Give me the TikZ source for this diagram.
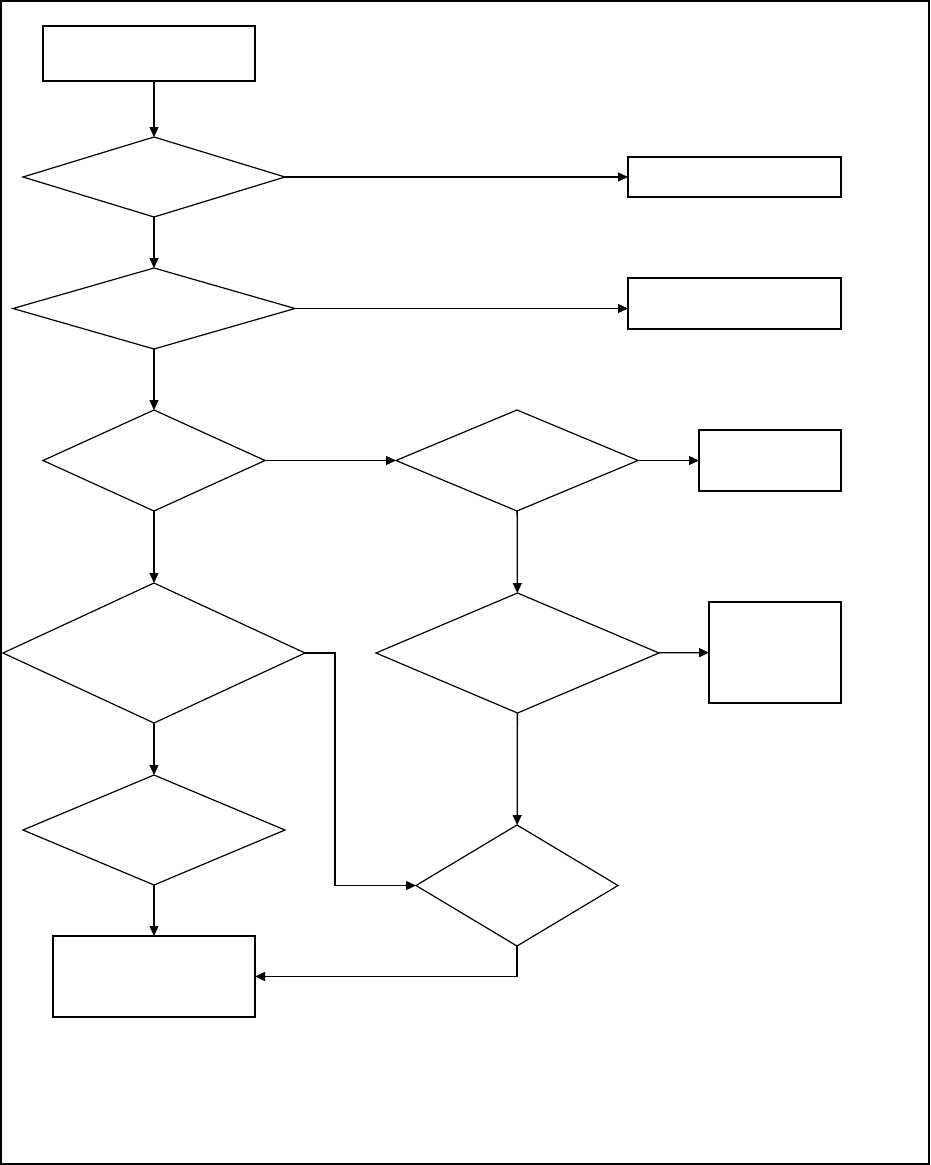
\documentclass[tikz,border=0pt]{standalone}
\usetikzlibrary{shapes.geometric,arrows.meta}
\begin{document}
\begin{tikzpicture}[x=1pt,y=-1pt,
  line width=1.2pt,
  box/.style={draw,rectangle,inner sep=0pt,outer sep=0pt},
  dia/.style={draw,diamond,inner sep=0pt,outer sep=0pt},
  conn/.style={-{Triangle[length=10pt,width=9pt]},line width=1.3pt}]
\useasboundingbox (0,0) rectangle (930,1165);
\draw[line width=1.5pt] (1,1) rectangle (929,1164);
% boxes
\node[box,line width=2pt,minimum width=212pt,minimum height=55pt] (start) at (149,53.5) {};
\node[box,minimum width=213pt,minimum height=40pt] (r1) at (734.5,177) {};
\node[box,minimum width=213pt,minimum height=51pt] (r2) at (734.5,303.5) {};
\node[box,minimum width=142pt,minimum height=61pt] (r3) at (770,460.5) {};
\node[box,minimum width=132pt,minimum height=101pt] (r4) at (775,652.5) {};
\node[box,minimum width=202pt,minimum height=81pt] (end) at (154,976.5) {};
% diamonds
\node[dia,minimum width=262pt,minimum height=80pt] (d1) at (154,177) {};
\node[dia,minimum width=282pt,minimum height=81pt] (d2) at (154,308.5) {};
\node[dia,minimum width=222pt,minimum height=101pt] (d3) at (154,460.5) {};
\node[dia,minimum width=242pt,minimum height=101pt] (d4) at (517,460.5) {};
\node[dia,minimum width=302pt,minimum height=140pt] (d5) at (154,653) {};
\node[dia,minimum width=283pt,minimum height=120pt] (d6) at (517.5,653) {};
\node[dia,minimum width=262pt,minimum height=110pt] (d7) at (154,830) {};
\node[dia,minimum width=202pt,minimum height=121pt] (d8) at (517,885.5) {};
\coordinate (k1) at (335,653);
% connectors
\draw[conn] (start.south -| d1.north) -- (d1.north);
\draw[conn] (d1.east) -- (r1.west |- d1.east);
\draw[conn] (d1) -- (d2);
\draw[conn] (d2.east) -- (r2.west |- d2.east);
\draw[conn] (d2) -- (d3);
\draw[conn] (d3) -- (d4);
\draw[conn] (d4.east) -- (r3.west |- d4.east);
\draw[conn] (d3) -- (d5);
\draw[conn] (d4) -- (d6);
\draw[conn] (d6) -- (r4);
\draw[conn] (d5) -- (d7);
\draw[conn] (d5.east) -- (k1) |- (d8.west);
\draw[conn] (d6) -- (d8);
\draw[conn] (d7) -- (end);
\draw[conn] (d8.south) |- (end.east);
\end{tikzpicture}
\end{document}
